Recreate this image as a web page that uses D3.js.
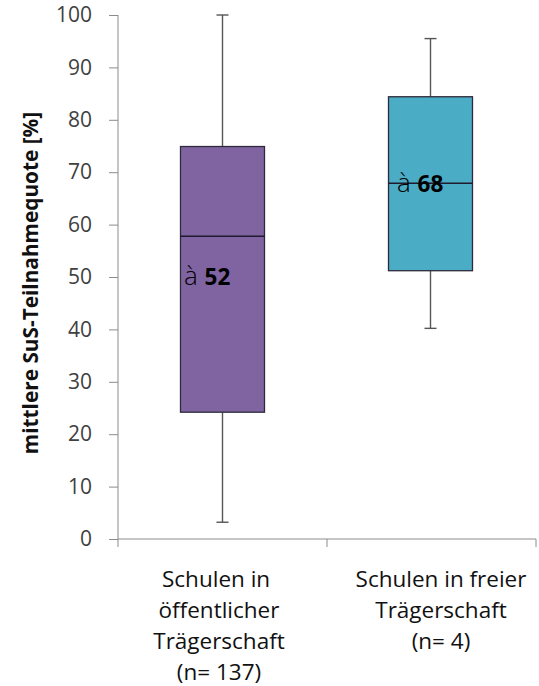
<!DOCTYPE html>
<html><head><meta charset="utf-8">
<script src="https://cdn.jsdelivr.net/npm/d3@7"></script>
<style>body{margin:0;background:#fff}svg{display:block}</style>
</head><body>
<svg id="c" width="539" height="686"></svg>
<script>
const categories = ["öffentlich", "frei"];
const categoryLabels = [
  ["Schulen in", "öffentlicher", "Trägerschaft", "(n= 137)"],
  ["Schulen in freier", "Trägerschaft", "(n= 4)"]
];
const whiskerLow = [3.2, 40.2];
const q1 = [24.2, 51.2];
const median = [57.8, 67.9];
const q3 = [74.9, 84.4];
const whiskerHigh = [100, 95.5];
const meanLabels = ["52", "68"];
const yTicks = [0, 10, 20, 30, 40, 50, 60, 70, 80, 90, 100];
const colors = ["#8064A2", "#4BACC6"];

const svg = d3.select("#c");
const font = "'Open Sans', sans-serif";
const x = d3.scaleBand().domain(categories).range([118, 536]);
const y = d3.scaleLinear().domain([0, 100]).range([539, 15]);

// y axis
const ya = svg.append("g").attr("transform", "translate(118,0)")
  .call(d3.axisLeft(y).tickValues(yTicks).tickSize(9).tickPadding(17));
ya.select(".domain").attr("stroke", "#8c8c8c").attr("d", "M0," + y(100) + "V" + y(0));
ya.selectAll(".tick line").attr("stroke", "#8c8c8c");
ya.selectAll("text").attr("font-family", font).attr("font-size", 21).attr("fill", "#404040");

// x axis
const xa = svg.append("g").attr("transform", "translate(0,539)");
xa.append("line").attr("x1", 118).attr("x2", 536).attr("stroke", "#8c8c8c");
const bounds = [x.range()[0], ...categories.map(c => x(c) + x.bandwidth())];
xa.selectAll("line.t").data(bounds).join("line").attr("class", "t")
  .attr("x1", d => d).attr("x2", d => d).attr("y1", 0).attr("y2", 8).attr("stroke", "#8c8c8c");

// category labels
const labelOffsets = [-3.5, 9.5];
categories.forEach((c, i) => {
  const t = svg.append("text").attr("text-anchor", "middle").attr("font-family", font)
    .attr("font-size", 22.5).attr("fill", "#111");
  categoryLabels[i].forEach((l, j) => {
    t.append("tspan").attr("x", x(c) + x.bandwidth() / 2 + labelOffsets[i]).attr("y", 587 + j * 31)
      .text(j === 0 && i === 0 ? l + "\u00a0" : l);
  });
});

// y title
svg.append("text").attr("transform", "translate(38,283) rotate(-90)").attr("text-anchor", "middle")
  .attr("font-family", font).attr("font-weight", "bold").attr("font-size", 20.8).attr("fill", "#111")
  .text("mittlere SuS-Teilnahmequote [%]");

// boxes
const boxW = 84;
const boxOffsets = [0, -1];
categories.forEach((c, i) => {
  const cx = x(c) + x.bandwidth() / 2 + boxOffsets[i];
  const g = svg.append("g");
  g.append("line").attr("x1", cx).attr("x2", cx).attr("y1", y(whiskerHigh[i])).attr("y2", y(q3[i])).attr("stroke", "#555").attr("stroke-width", 1.4);
  g.append("line").attr("x1", cx).attr("x2", cx).attr("y1", y(q1[i])).attr("y2", y(whiskerLow[i])).attr("stroke", "#555").attr("stroke-width", 1.4);
  [whiskerHigh[i], whiskerLow[i]].forEach(v => g.append("line").attr("x1", cx - 6).attr("x2", cx + 6)
    .attr("y1", y(v)).attr("y2", y(v)).attr("stroke", "#555").attr("stroke-width", 1.4));
  g.append("rect").attr("x", cx - boxW / 2).attr("width", boxW).attr("y", y(q3[i])).attr("height", y(q1[i]) - y(q3[i]))
    .attr("fill", colors[i]).attr("stroke", "#2e2a3a").attr("stroke-width", 1.3);
  g.append("line").attr("x1", cx - boxW / 2).attr("x2", cx + boxW / 2).attr("y1", y(median[i])).attr("y2", y(median[i]))
    .attr("stroke", "#1f1a2e").attr("stroke-width", 1.5);
});

// mean annotations
const annY = [285, 192];
const annDx = [-38.5, -33.5];
categories.forEach((c, i) => {
  const cx = x(c) + x.bandwidth() / 2 + boxOffsets[i];
  const t = svg.append("text").attr("x", cx + annDx[i]).attr("y", annY[i]).attr("font-family", font).attr("fill", "#000");
  t.append("tspan").attr("font-size", 26).attr("font-weight", 300).text("à ");
  t.append("tspan").attr("font-size", 22.5).attr("font-weight", "bold").text(meanLabels[i]);
});
</script>
</body></html>
